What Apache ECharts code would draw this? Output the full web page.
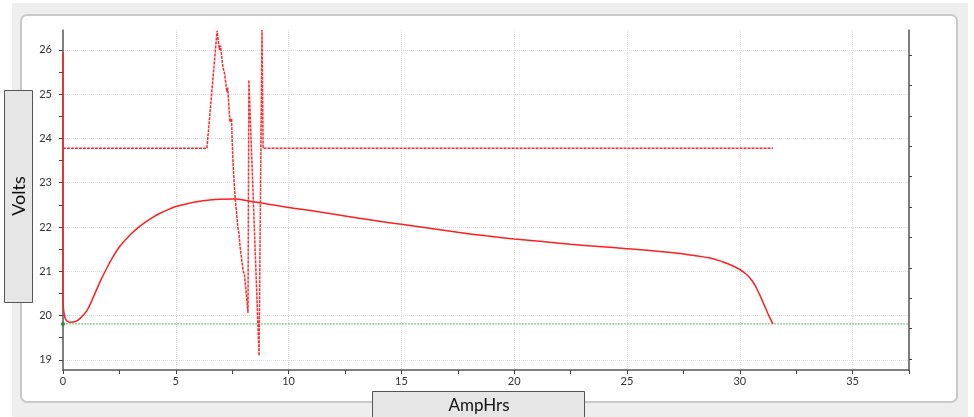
<!DOCTYPE html>
<html>
<head>
<meta charset="utf-8">
<script src="https://cdn.jsdelivr.net/npm/echarts@6/dist/echarts.min.js"></script>
<style>
  html, body { margin: 0; padding: 0; background: #ffffff; }
  #chart { width: 974px; height: 417px; }
</style>
</head>
<body>
<div id="chart"></div>
<script>
// Pack voltage while discharging (solid trace)
const dischargeAh = [0, 0, 0.02, 0.09, 0.18, 0.31, 0.53, 0.75, 1.06, 1.33, 1.64, 1.95, 2.22, 2.53, 2.97,
  3.41, 3.86, 4.30, 4.74, 5.05, 5.63, 6.07, 6.74, 7.62, 8.29, 9.18, 10, 11.25, 12.5, 13.75, 15, 16.25,
  17.5, 18.75, 20, 21.25, 22.5, 23.75, 25, 26.25, 27.0, 27.79, 28.68, 29.26, 29.7, 30.0, 30.25, 30.45,
  30.62, 30.76, 30.9, 31.03, 31.15, 31.25, 31.36, 31.47];
const dischargeVolts = [25.95, 20.4, 20.15, 19.95, 19.87, 19.85, 19.86, 19.93, 20.11, 20.40, 20.76, 21.08,
  21.33, 21.57, 21.82, 22.02, 22.18, 22.31, 22.41, 22.47, 22.54, 22.58, 22.62, 22.63, 22.58, 22.51, 22.44,
  22.35, 22.25, 22.15, 22.06, 21.97, 21.88, 21.80, 21.73, 21.67, 21.61, 21.56, 21.51, 21.46, 21.42, 21.37,
  21.30, 21.21, 21.12, 21.04, 20.95, 20.85, 20.73, 20.60, 20.45, 20.30, 20.16, 20.04, 19.92, 19.81];

// Charger / supply voltage (dashed trace)
const chargerAh = [0, 6.38, 6.83, 6.93, 6.98, 7.09, 7.15, 7.27, 7.30, 7.40, 7.47, 7.49, 7.54, 7.62, 7.75,
  7.80, 7.85, 7.98, 8.05, 8.20, 8.24, 8.69, 8.82, 8.87, 31.47];
const chargerVolts = [23.78, 23.78, 26.43, 26.0, 26.1, 25.6, 25.5, 25.05, 25.15, 24.37, 24.45, 24.08, 23.4,
  22.72, 22.0, 21.85, 21.55, 21.03, 20.9, 20.06, 25.32, 19.09, 26.45, 23.78, 23.78];

// Low-voltage cutoff level
const cutoffAh = [0, 37.5];
const cutoffVolts = [19.81, 19.81];

// Axis ticks
const voltLabels = [19, 20, 21, 22, 23, 24, 25, 26];
const voltTicks = [19, 19.5, 20, 20.5, 21, 21.5, 22, 22.5, 23, 23.5, 24, 24.5, 25, 25.5, 26];
const ampHrGrid = [5, 10, 15, 20, 25, 30, 35];
const rightTicks = [0, 1, 2, 3, 4, 5, 6, 7, 8, 9, 10];

const pair = (xs, ys) => xs.map((x, i) => [x, ys[i]]);

const FONT = 'Lato, "Open Sans", sans-serif';
const AXIS_COLOR = '#555555';
const GRID_LINE = { type: 'dotted', color: '#dedede', width: 1 };

const chart = echarts.init(document.getElementById('chart'), null, { renderer: 'canvas' });

chart.setOption({
  animation: false,
  backgroundColor: '#ffffff',
  textStyle: { fontFamily: FONT },
  grid: { left: 63, top: 30, right: 65, bottom: 47, containLabel: false },
  graphic: [
    { type: 'rect', z: -20, silent: true, shape: { x: 12, y: 3, width: 956, height: 414 }, style: { fill: '#eeeeee' } },
    { type: 'rect', z: -10, silent: true, shape: { x: 21, y: 15, width: 936, height: 387, r: 6 },
      style: { fill: '#ffffff', stroke: '#c9c9c9', lineWidth: 2 } },
    { type: 'rect', z: 50, silent: true, shape: { x: 4.5, y: 90.5, width: 28, height: 212 },
      style: { fill: '#e6e6e6', stroke: '#555555', lineWidth: 1 } },
    { type: 'text', z: 51, silent: true, x: 19, y: 196, rotation: Math.PI / 2,
      style: { text: 'Volts', fill: '#111111', font: '18px ' + FONT, align: 'center', verticalAlign: 'middle' } },
    { type: 'rect', z: 50, silent: true, shape: { x: 372.5, y: 391.5, width: 212, height: 40 },
      style: { fill: '#e6e6e6', stroke: '#555555', lineWidth: 1 } },
    { type: 'text', z: 51, silent: true, x: 479, y: 406,
      style: { text: 'AmpHrs', fill: '#111111', font: '17px ' + FONT, align: 'center', verticalAlign: 'middle' } }
  ],
  xAxis: [
    {
      type: 'value', position: 'bottom', min: 0, max: 37.5, interval: 2.5,
      axisLine: { show: true, onZero: false, lineStyle: { color: AXIS_COLOR, width: 1.5 } },
      axisTick: { show: true, length: 4, lineStyle: { color: '#444' } },
      axisLabel: {
        color: '#333', fontSize: 11, margin: 6, fontFamily: FONT,
        formatter: v => (v % 5 === 0 && v < 37.5) ? String(v) : ''
      },
      splitLine: { show: false }
    },
    {
      type: 'value', position: 'bottom', min: 0, max: 37.5,
      axisLine: { show: false }, axisLabel: { show: false },
      axisTick: { show: false, customValues: ampHrGrid },
      splitLine: { show: true, lineStyle: GRID_LINE }
    }
  ],
  yAxis: [
    {
      type: 'value', position: 'left', min: 18.77, max: 26.45,
      axisLine: { show: true, onZero: false, lineStyle: { color: AXIS_COLOR, width: 1.5 } },
      axisTick: { show: true, length: 4, customValues: voltTicks, lineStyle: { color: '#444' } },
      axisLabel: { customValues: voltLabels, color: '#333', fontSize: 11, margin: 11, fontFamily: FONT },
      splitLine: { show: false }
    },
    {
      type: 'value', position: 'right', min: -0.36, max: 10.82,
      axisLine: { show: true, onZero: false, lineStyle: { color: AXIS_COLOR, width: 1.5 } },
      axisTick: { show: true, length: 3, customValues: rightTicks, lineStyle: { color: '#444' } },
      axisLabel: { show: false },
      splitLine: { show: false }
    },
    {
      type: 'value', position: 'left', min: 18.77, max: 26.45,
      axisLine: { show: false }, axisLabel: { show: false },
      axisTick: { show: false, customValues: voltLabels },
      splitLine: { show: true, lineStyle: GRID_LINE }
    }
  ],
  series: [
    {
      name: 'Cutoff', type: 'line', xAxisIndex: 0, yAxisIndex: 0,
      data: pair(cutoffAh, cutoffVolts).map((p, i) => i === 0
        ? { value: p, symbol: 'circle', symbolSize: 4, itemStyle: { color: '#2f8f2f' } }
        : { value: p, symbol: 'none' }),
      symbol: 'none', showSymbol: true,
      lineStyle: { color: '#7fcf7f', width: 1.2, type: [2, 1] }
    },
    {
      name: 'Discharge', type: 'line', xAxisIndex: 0, yAxisIndex: 0,
      data: pair(dischargeAh, dischargeVolts),
      symbol: 'none', smooth: 0.4,
      lineStyle: { color: '#ff1f1f', width: 1.5 }
    },
    {
      name: 'Charger', type: 'line', xAxisIndex: 0, yAxisIndex: 0,
      data: pair(chargerAh, chargerVolts),
      symbol: 'none',
      lineStyle: { color: '#ff2a2a', width: 1.5, type: [3, 1] }
    }
  ]
});
</script>
</body>
</html>
